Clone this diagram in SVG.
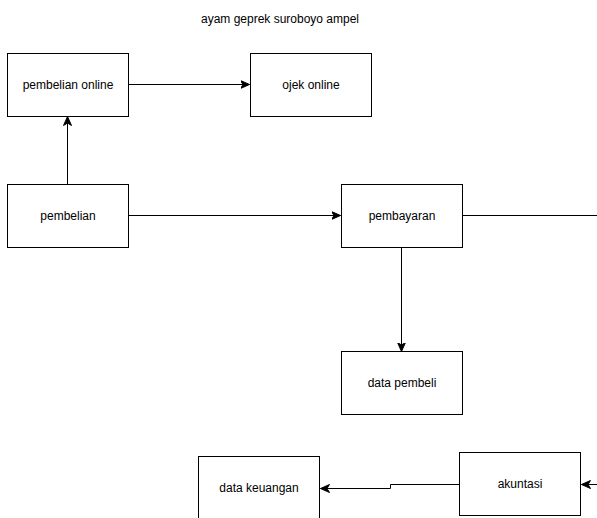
<svg xmlns="http://www.w3.org/2000/svg" width="597" height="518" viewBox="0 0 597 518">
<style>
.box{fill:#fff;stroke:#000;stroke-width:1}
.lbl{font-family:"Liberation Sans",Arial,sans-serif;font-size:12px;fill:#000;text-anchor:middle;dominant-baseline:central}
.edge{fill:none;stroke:#000;stroke-width:1}
</style>
<defs>
<marker id="ah" viewBox="0 0 10 10" refX="9" refY="5" markerWidth="10" markerHeight="10" markerUnits="userSpaceOnUse" orient="auto">
<path d="M0,1 L9,5 L0,9 L2.5,5 Z" fill="#000" stroke="#000" stroke-width="1"/>
</marker>
</defs>
<rect width="597" height="518" fill="#fff"/>
<text class="lbl" x="280" y="19">ayam geprek suroboyo ampel</text>
<g id="connectors">
<path class="edge" d="M128.5,84.5 H249.5" marker-end="url(#ah)"/>
<path class="edge" d="M67.5,184.5 V116.5" marker-end="url(#ah)"/>
<path class="edge" d="M128.5,215.5 H340.5" marker-end="url(#ah)"/>
<path class="edge" d="M462.5,215.5 H597"/>
<path class="edge" d="M401.5,247.5 V351.5" marker-end="url(#ah)"/>
<path class="edge" d="M459.5,484.5 H390.5 V488.5 H320.5" marker-end="url(#ah)"/>
<path class="edge" d="M597,484.5 H581.5" marker-end="url(#ah)"/>
</g>
<g id="pembelian-online"><rect class="box" x="7.5" y="53.5" width="121" height="63"/><text class="lbl" x="68" y="85">pembelian online</text></g>
<g id="ojek-online"><rect class="box" x="250.5" y="53.5" width="121" height="63"/><text class="lbl" x="311" y="85">ojek online</text></g>
<g id="pembelian"><rect class="box" x="7.5" y="184.5" width="121" height="63"/><text class="lbl" x="68" y="216">pembelian</text></g>
<g id="pembayaran"><rect class="box" x="341.5" y="184.5" width="121" height="63"/><text class="lbl" x="402" y="216">pembayaran</text></g>
<g id="data-pembeli"><rect class="box" x="341.5" y="351.5" width="121" height="63"/><text class="lbl" x="402" y="383">data pembeli</text></g>
<g id="data-keuangan"><rect class="box" x="198.5" y="456.5" width="121" height="63"/><text class="lbl" x="259" y="488">data keuangan</text></g>
<g id="akuntasi"><rect class="box" x="459.5" y="452.5" width="121" height="63"/><text class="lbl" x="520" y="484">akuntasi</text></g>
</svg>
